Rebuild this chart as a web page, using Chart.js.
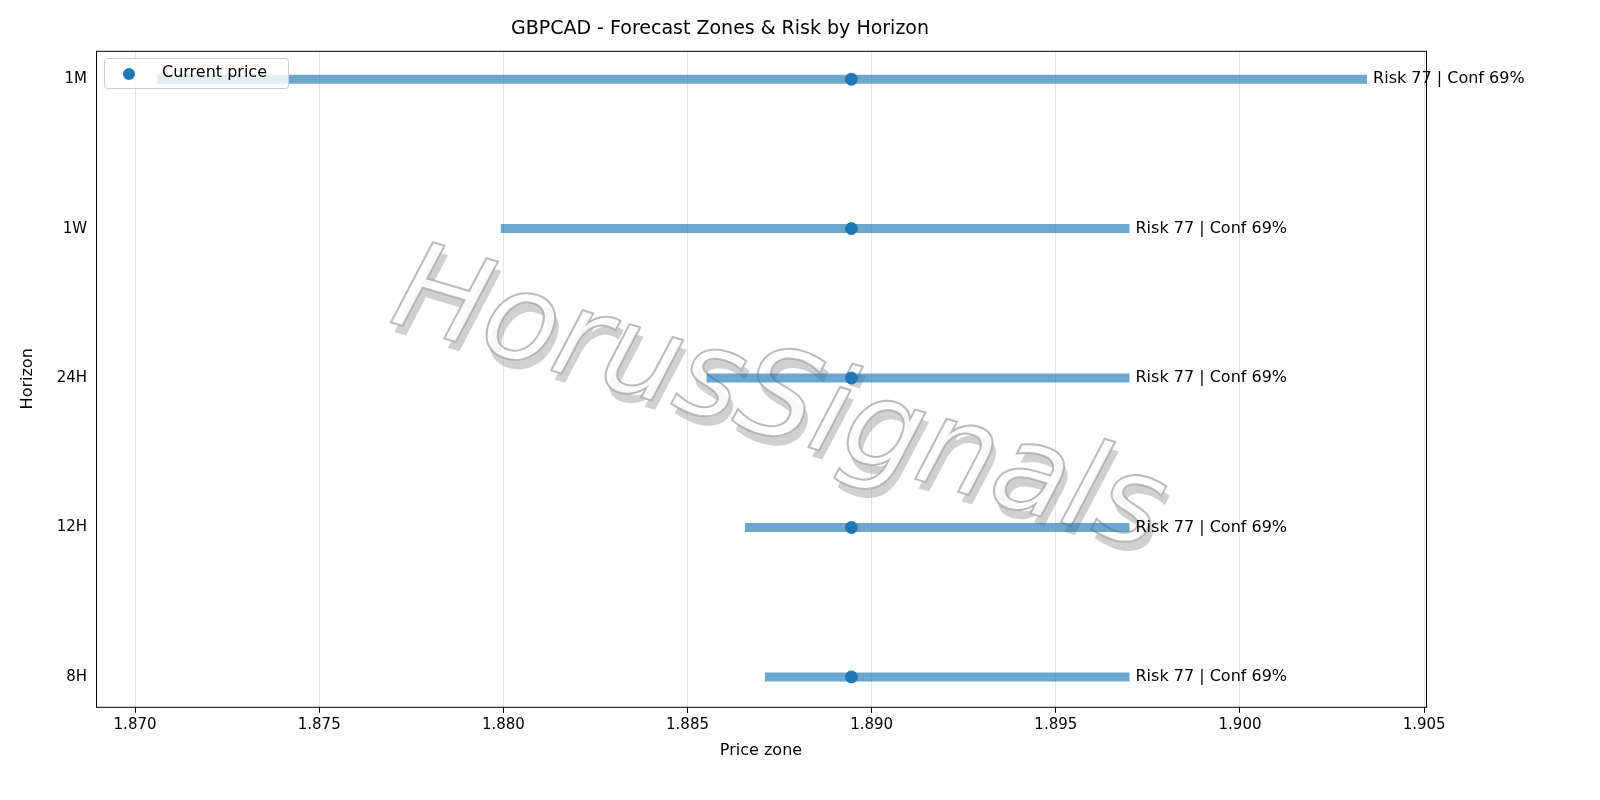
<!DOCTYPE html><html><head><style>html,body{margin:0;background:#fff;overflow:hidden}#w{width:1600px;height:800px;position:relative}</style>
<script src="https://cdn.jsdelivr.net/npm/chart.js@4"></script></head><body><div id="w"><canvas id="c" width="1600" height="800"></canvas></div>
<script>
const horizons=["8H","12H","24H","1W","1M"];
const lows=[1.88710,1.88656,1.88552,1.87993,1.87060];
const highs=[1.89700,1.89700,1.89700,1.89700,1.90345];
const current=[1.88945,1.88945,1.88945,1.88945,1.88945];
const labels=["Risk 77 | Conf 69%","Risk 77 | Conf 69%","Risk 77 | Conf 69%","Risk 77 | Conf 69%","Risk 77 | Conf 69%"];
const xTicks=[1.870,1.875,1.880,1.885,1.890,1.895,1.900,1.905];
const F="'DejaVu Sans'";
const ds=horizons.map((h,i)=>({type:'line',label:'zone'+h,data:[{x:lows[i],y:i},{x:highs[i],y:i}],borderColor:'rgba(31,119,180,0.65)',borderWidth:9,borderCapStyle:'butt',pointRadius:0,showLine:true,order:2}));
ds.push({type:'scatter',label:'Current price',data:current.map((v,i)=>({x:v,y:i})),backgroundColor:'#1f77b4',borderColor:'#1f77b4',pointRadius:6,order:1});
const plug={id:'p',
beforeDatasetsDraw(c){const ctx=c.ctx,a=c.chartArea;ctx.save();ctx.beginPath();ctx.rect(a.left,a.top,a.right-a.left,a.bottom-a.top);ctx.clip();
ctx.translate(778,405);ctx.rotate(0.29);ctx.font="italic 122px "+F;ctx.textAlign='center';ctx.textBaseline='middle';
ctx.fillStyle='rgba(150,150,150,0.45)';ctx.fillText("HorusSignals",6,8);ctx.fillStyle='rgba(255,255,255,0.85)';ctx.fillText("HorusSignals",0,0);
ctx.strokeStyle='rgba(170,170,170,0.8)';ctx.lineWidth=2;ctx.strokeText("HorusSignals",0,0);ctx.restore();},
afterDatasetsDraw(c){const ctx=c.ctx,x=c.scales.x,y=c.scales.y;ctx.save();ctx.font="16px "+F;ctx.fillStyle='#000';ctx.textBaseline='middle';
labels.forEach((t,i)=>ctx.fillText(t,x.getPixelForValue(highs[i])+6,y.getPixelForValue(i)));
const a=c.chartArea;ctx.strokeStyle='#000';ctx.lineWidth=1;ctx.strokeRect(a.left+.5,a.top+.5,a.right-a.left,a.bottom-a.top);
ctx.fillStyle='rgba(255,255,255,0.8)';ctx.strokeStyle='#ccc';ctx.beginPath();ctx.roundRect(104.5,58.5,184,30,3);ctx.fill();ctx.stroke();
ctx.fillStyle='#1f77b4';ctx.beginPath();ctx.arc(129,74,6,0,Math.PI*2);ctx.fill();
ctx.fillStyle='#000';ctx.font="16px "+F;ctx.fillText("Current price",162,73);ctx.restore();}};
new Chart(document.getElementById('c'),{data:{datasets:ds},plugins:[plug],options:{responsive:false,animation:false,devicePixelRatio:1,
layout:{padding:{top:0,right:174,bottom:36,left:14}},
plugins:{title:{display:true,text:"GBPCAD - Forecast Zones & Risk by Horizon",font:{family:F,size:19,weight:'normal'},color:'#000',padding:{top:18,bottom:10}},
legend:{display:false},tooltip:{enabled:false}},
scales:{x:{type:'linear',min:1.86894,max:1.90505,afterBuildTicks(s){s.ticks=xTicks.map(v=>({value:v}))},ticks:{callback:v=>v.toFixed(3),font:{family:F,size:15},color:'#000',maxRotation:0},grid:{color:'#e5e5e5',drawTicks:true,tickColor:'#000',tickLength:6},border:{display:false},
title:{display:true,text:'Price zone',font:{family:F,size:16},color:'#000',padding:{top:4}}},
y:{type:'linear',min:-0.2,max:4.19,afterBuildTicks(s){s.ticks=horizons.map((h,i)=>({value:i}))},afterFit(s){s.width=82},ticks:{callback:(v)=>horizons[v]??'',font:{family:F,size:15},color:'#000'},grid:{display:false,drawTicks:true,tickColor:'#000',tickLength:6},border:{display:false},
title:{display:true,text:'Horizon',font:{family:F,size:16},color:'#000'}}}}});
</script></body></html>
